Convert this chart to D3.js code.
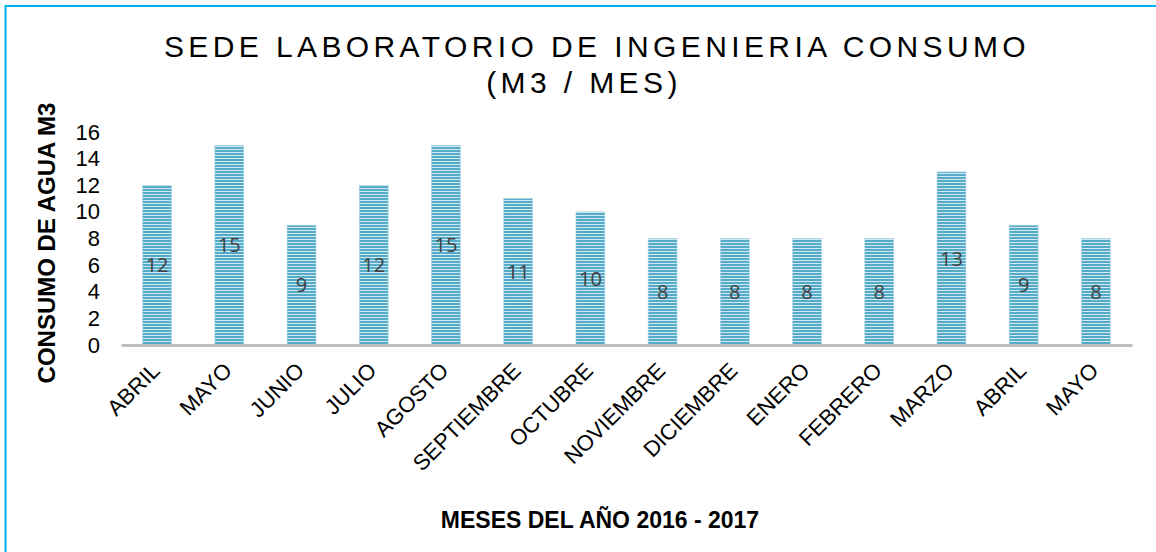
<!DOCTYPE html>
<html>
<head>
<meta charset="utf-8">
<script src="https://cdn.jsdelivr.net/npm/d3@7"></script>
<style>
  body { margin: 0; background: #fff; }
  svg { display: block; font-family: "Liberation Sans", Arial, sans-serif; }
</style>
</head>
<body>
<svg id="chart"></svg>
<script>
// data
var months = ["ABRIL", "MAYO", "JUNIO", "JULIO", "AGOSTO", "SEPTIEMBRE", "OCTUBRE",
              "NOVIEMBRE", "DICIEMBRE", "ENERO", "FEBRERO", "MARZO", "ABRIL", "MAYO"];
var consumo = [12, 15, 9, 12, 15, 11, 10, 8, 8, 8, 8, 13, 9, 8];
var yTicks = [0, 2, 4, 6, 8, 10, 12, 14, 16];

var svg = d3.select("#chart")
      .attr("width", 1156)
      .attr("height", 552),
    margin = {top: 132, right: 24, bottom: 207, left: 121},
    width = 1156 - margin.left - margin.right,
    height = 552 - margin.top - margin.bottom;

// outer frame (only top and left visible in the picture)
svg.append("rect")
    .attr("x", 5.5).attr("y", 6)
    .attr("width", 1200).attr("height", 600)
    .attr("fill", "none")
    .attr("stroke", "#00b0f0")
    .attr("stroke-width", 2);

// striped fill for the bars
var pat = svg.append("defs").append("pattern")
    .attr("id", "stripes")
    .attr("patternUnits", "userSpaceOnUse")
    .attr("width", 10).attr("height", 3);
pat.append("rect").attr("width", 10).attr("height", 3).attr("fill", "#cfe8f1");
pat.append("rect").attr("width", 10).attr("height", 2).attr("fill", "#55abc8");

var data = months.map(function(m, i) { return {key: i, month: m, value: consumo[i]}; });

var x = d3.scaleBand().domain(data.map(function(d) { return d.key; }))
    .range([0, width]).paddingInner(0.6).paddingOuter(0.3);
var y = d3.scaleLinear().domain([0, 16]).range([height, 0]);

var g = svg.append("g")
    .attr("transform", "translate(" + margin.left + "," + margin.top + ")");

// y axis (no line, only labels)
var yAxis = g.append("g")
    .call(d3.axisLeft(y).tickValues(yTicks).tickSize(0).tickPadding(21));
yAxis.select(".domain").remove();
yAxis.selectAll("text")
    .attr("font-size", 22)
    .attr("font-family", "Liberation Sans, Arial, sans-serif")
    .attr("fill", "#000");

// bars
g.selectAll(".bar")
    .data(data)
    .enter().append("rect")
    .attr("class", "bar")
    .attr("x", function(d) { return x(d.key); })
    .attr("y", function(d) { return y(d.value); })
    .attr("width", x.bandwidth())
    .attr("height", function(d) { return height - y(d.value); })
    .attr("fill", "url(#stripes)")
    .attr("stroke", "#a9d4e4")
    .attr("stroke-width", 0.6);

// value labels in the middle of each bar
g.selectAll(".lbl")
    .data(data)
    .enter().append("text")
    .attr("class", "lbl")
    .attr("x", function(d) { return x(d.key) + x.bandwidth() / 2; })
    .attr("y", function(d) { return (y(d.value) + height) / 2; })
    .attr("dy", "0.36em")
    .attr("text-anchor", "middle")
    .attr("font-family", "Open Sans, sans-serif")
    .attr("font-size", 20)
    .attr("fill", "#404040")
    .text(function(d) { return d.value; });

// x axis
var xAxis = g.append("g")
    .attr("transform", "translate(0," + height + ")")
    .call(d3.axisBottom(x).tickSize(0).tickFormat(function(k) { return months[k]; }));
xAxis.select(".domain")
    .attr("stroke", "#bfbfbf")
    .attr("stroke-width", 3);
xAxis.selectAll("text")
    .attr("font-size", 22)
    .attr("font-family", "Liberation Sans, Arial, sans-serif")
    .attr("fill", "#000")
    .attr("text-anchor", "end")
    .attr("y", 0)
    .attr("dy", 0)
    .attr("transform", "translate(4,27) rotate(-45)");

// titles
svg.append("text")
    .attr("x", 597).attr("y", 57)
    .attr("text-anchor", "middle")
    .attr("font-size", 30)
    .attr("letter-spacing", 4.4)
    .attr("fill", "#000")
    .text("SEDE LABORATORIO DE INGENIERIA CONSUMO");
svg.append("text")
    .attr("x", 584).attr("y", 93)
    .attr("text-anchor", "middle")
    .attr("font-size", 30)
    .attr("letter-spacing", 4.4)
    .attr("fill", "#000")
    .text("(M3 / MES)");

svg.append("text")
    .attr("transform", "translate(55,243) rotate(-90)")
    .attr("text-anchor", "middle")
    .attr("font-size", 24)
    .attr("font-weight", "bold")
    .attr("fill", "#000")
    .text("CONSUMO DE AGUA M3");

svg.append("text")
    .attr("x", 600).attr("y", 528)
    .attr("text-anchor", "middle")
    .attr("font-size", 23)
    .attr("font-weight", "bold")
    .attr("fill", "#000")
    .text("MESES DEL AÑO 2016 - 2017");
</script>
</body>
</html>
